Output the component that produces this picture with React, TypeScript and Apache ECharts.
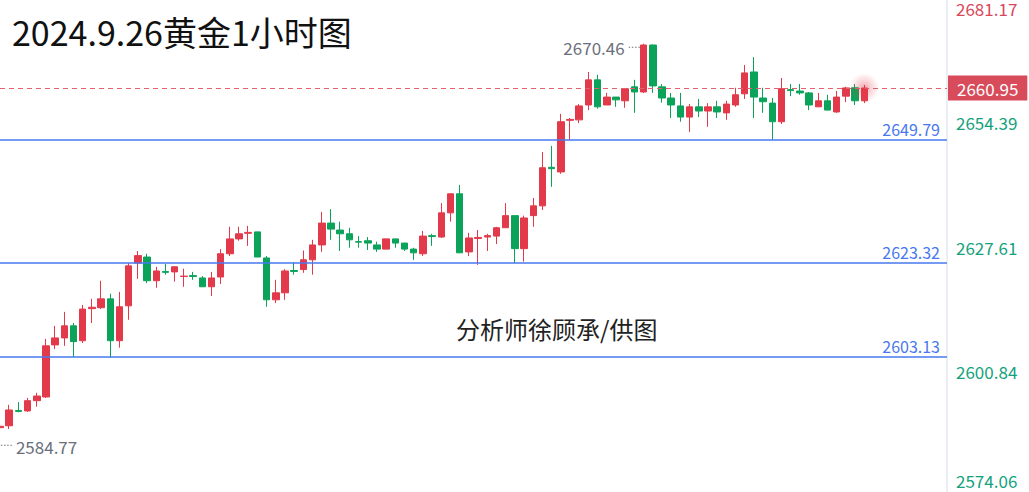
import React, { useEffect, useRef } from "react";
import * as echarts from "echarts";

// Hourly gold candles (Chinese convention: red = up, green = down)
const candleOpen = [
  2587.9, 2588.3, 2591.6, 2591.5, 2593.7, 2594.5, 2605.7, 2607.2, 2609.8, 2606.6,
  2613.5, 2613.7, 2615.6, 2606.6, 2614.1, 2623.3, 2624.6, 2619.5, 2621.5, 2621.4,
  2620.4, 2620.6, 2620.1, 2618.2, 2620.3, 2625.3, 2628.5, 2629.7, 2630.0, 2624.4,
  2615.4, 2616.9, 2621.7, 2621.9, 2624.0, 2627.2, 2631.9, 2630.4, 2629.6, 2627.9,
  2628.1, 2627.2, 2626.3, 2628.5, 2627.6, 2626.3, 2625.3, 2629.2, 2628.9, 2634.1,
  2638.2, 2625.7, 2628.6, 2628.9, 2629.1, 2630.9, 2633.5, 2626.4, 2633.5, 2635.6,
  2643.9, 2642.9, 2654.0, 2654.1, 2657.3, 2662.7, 2657.3, 2659.0, 2658.2, 2661.2,
  2660.1, 2670.2, 2661.2, 2658.8, 2657.1, 2654.7, 2656.9, 2656.0, 2656.9, 2655.6,
  2657.3, 2659.7, 2664.4, 2658.8, 2657.7, 2653.7, 2660.6, 2660.3, 2659.9, 2656.9,
  2658.2, 2655.8, 2659.2, 2661.0, 2658.2,
];
const candleClose = [
  2588.2, 2591.7, 2591.4, 2593.7, 2594.7, 2605.5, 2607.2, 2609.8, 2606.4, 2613.4,
  2613.8, 2615.6, 2606.6, 2613.9, 2622.7, 2624.9, 2619.5, 2621.6, 2621.3, 2622.5,
  2620.5, 2620.4, 2618.2, 2620.1, 2625.3, 2628.5, 2629.6, 2629.9, 2624.6, 2615.4,
  2616.9, 2621.6, 2621.5, 2624.0, 2627.2, 2631.9, 2630.6, 2629.6, 2628.3, 2627.8,
  2627.6, 2626.3, 2628.5, 2627.6, 2626.3, 2625.5, 2629.1, 2629.0, 2634.1, 2638.2,
  2625.5, 2628.7, 2628.8, 2629.2, 2630.9, 2633.5, 2626.4, 2633.0, 2635.6, 2643.8,
  2643.6, 2653.7, 2654.2, 2657.1, 2662.7, 2656.9, 2659.0, 2658.4, 2660.8, 2660.1,
  2670.2, 2661.4, 2658.8, 2657.3, 2654.7, 2656.9, 2656.0, 2656.9, 2655.8, 2657.5,
  2659.5, 2664.2, 2659.0, 2658.0, 2653.7, 2660.8, 2660.4, 2659.9, 2657.3, 2658.2,
  2656.2, 2659.0, 2660.97, 2658.2, 2660.95,
];
const candleLow = [
  2587.6, 2587.6, 2591.2, 2591.3, 2592.4, 2594.3, 2604.8, 2605.5, 2603.1, 2606.1,
  2610.4, 2613.4, 2602.9, 2605.1, 2611.1, 2619.9, 2619.0, 2618.0, 2620.8, 2619.3,
  2618.2, 2619.7, 2618.2, 2616.2, 2618.8, 2624.8, 2628.1, 2627.0, 2624.6, 2613.9,
  2614.7, 2615.4, 2620.8, 2621.2, 2620.8, 2625.7, 2628.3, 2625.9, 2626.6, 2626.6,
  2626.1, 2625.7, 2626.3, 2626.6, 2625.9, 2624.0, 2624.8, 2627.0, 2628.7, 2632.2,
  2625.5, 2624.8, 2622.9, 2625.9, 2627.4, 2630.9, 2623.3, 2623.6, 2631.1, 2634.7,
  2639.7, 2642.5, 2649.8, 2653.4, 2656.2, 2656.5, 2657.3, 2656.9, 2656.7, 2655.6,
  2659.9, 2659.9, 2657.8, 2654.5, 2653.7, 2651.5, 2654.7, 2652.6, 2654.5, 2654.1,
  2656.9, 2658.6, 2654.5, 2655.6, 2649.8, 2653.2, 2659.2, 2659.5, 2656.2, 2656.9,
  2656.2, 2655.6, 2657.9, 2657.3, 2657.7,
];
const candleHigh = [
  2588.4, 2592.8, 2593.4, 2594.3, 2595.4, 2607.0, 2609.8, 2612.8, 2610.4, 2614.3,
  2615.6, 2619.5, 2616.7, 2617.1, 2623.3, 2625.9, 2625.3, 2622.5, 2623.1, 2622.6,
  2622.1, 2621.4, 2620.5, 2621.4, 2626.3, 2631.1, 2631.1, 2631.3, 2630.0, 2624.8,
  2619.7, 2622.0, 2623.5, 2626.0, 2628.3, 2634.3, 2634.9, 2632.2, 2630.9, 2629.1,
  2628.9, 2627.9, 2628.5, 2628.5, 2627.6, 2626.6, 2630.2, 2629.6, 2636.2, 2638.2,
  2640.1, 2629.8, 2630.4, 2629.6, 2631.1, 2636.2, 2633.5, 2633.5, 2637.3, 2647.2,
  2648.5, 2655.4, 2654.5, 2657.5, 2664.4, 2663.8, 2659.9, 2659.0, 2660.8, 2662.7,
  2670.46, 2670.3, 2661.8, 2659.9, 2659.9, 2657.5, 2658.6, 2657.7, 2658.2, 2658.2,
  2661.0, 2665.9, 2667.6, 2661.0, 2658.8, 2663.1, 2661.8, 2661.8, 2660.1, 2659.9,
  2659.5, 2660.3, 2661.2, 2661.8, 2661.6,
];

const levelLines = [2649.79, 2623.32, 2603.13];
const currentPrice = 2660.95;
const axisTickValues = [2574.06, 2600.84, 2627.61, 2654.39, 2681.17];
const yMin = 2574.06;
const yMax = 2681.17;
const highMark = 2670.46;
const highIndex = 70;
const lowMark = 2584.77;
const emptySlots = 9;

const titleText = "2024.9.26黄金1小时图";
const watermarkText = "分析师徐顾承/供图";

const RED = "#e23a4b";
const GREEN = "#0ba35a";
const BLUE = "#4778ef";
const AXIS_RED = "#d9475a";
const AXIS_GREEN = "#14a27d";
const GRAY = "#6b6f7c";
const FONT = "'Noto Sans CJK SC', 'Noto Sans', sans-serif";
const DOT_FONT = "'DejaVu Sans', sans-serif";

// the chart canvas starts 6px above the page so that the value range fills it
const SHIFT = 6;

export default function App() {
  const ref = useRef<HTMLDivElement>(null);

  useEffect(() => {
    if (!ref.current) return;
    const chart = echarts.init(ref.current, undefined, { renderer: "svg" });

    const total = candleOpen.length + emptySlots;
    const categories: string[] = [];
    for (let i = 0; i < total; i++) categories.push("c" + i);
    const ohlc = candleOpen.map((o, i) => [o, candleClose[i], candleLow[i], candleHigh[i]]);
    const lastIdx = candleOpen.length - 1;

    const option: any = {
      animation: false,
      title: {
        text: titleText,
        left: 7,
        top: 9 + SHIFT,
        textStyle: { fontSize: 34, fontWeight: "normal", color: "#111", fontFamily: FONT },
      },
      grid: { left: 0, right: 82, top: 0, bottom: 0 },
      xAxis: {
        type: "category",
        data: categories,
        boundaryGap: false,
        show: false,
      },
      yAxis: {
        type: "value",
        position: "right",
        min: yMin,
        max: yMax,
        scale: true,
        splitLine: { show: false },
        axisLine: { show: true, lineStyle: { color: "#eceef5", width: 2 } },
        axisTick: { show: false },
        axisLabel: {
          customValues: axisTickValues,
          margin: 9,
          fontSize: 17,
          fontFamily: FONT,
          formatter: (v: number) => {
            const s = v.toFixed(2);
            if (Math.abs(v - yMax) < 0.001) return `{top|${s}}`;
            if (Math.abs(v - yMin) < 0.001) return `{bot|${s}}`;
            return `{mid|${s}}`;
          },
          rich: {
            top: { color: AXIS_RED, fontSize: 17, fontFamily: FONT, padding: [29, 0, 0, 0] },
            mid: { color: AXIS_GREEN, fontSize: 17, fontFamily: FONT, padding: [8, 0, 0, 0] },
            bot: { color: AXIS_GREEN, fontSize: 17, fontFamily: FONT, padding: [0, 0, 24, 0] },
          },
        },
      },
      graphic: [
        {
          type: "text",
          left: 456,
          top: 316 + SHIFT,
          style: { text: watermarkText, fontSize: 24, fontFamily: FONT, fill: "#222" },
        },
      ],
      series: [
        {
          type: "candlestick",
          data: ohlc,
          barWidth: 7,
          itemStyle: {
            color: RED,
            color0: GREEN,
            borderColor: RED,
            borderColor0: GREEN,
            borderWidth: 1,
          },
          markLine: {
            silent: true,
            symbol: ["none", "none"],
            animation: false,
            data: [
              ...levelLines.map((v) => ({
                yAxis: v,
                lineStyle: { color: BLUE, width: 1.5, type: "solid" },
                label: {
                  show: true,
                  position: "insideEndTop",
                  formatter: v.toFixed(2),
                  color: BLUE,
                  fontSize: 16,
                  fontFamily: FONT,
                  distance: [7, 3],
                },
              })),
              {
                yAxis: currentPrice,
                lineStyle: { color: "#e4606c", width: 1, type: [5, 4], opacity: 1 },
                label: {
                  show: true,
                  position: "end",
                  formatter: currentPrice.toFixed(2),
                  color: "#fff",
                  backgroundColor: "#d84b5b",
                  fontSize: 17,
                  fontFamily: FONT,
                  padding: [4, 9, 4, 9],
                  distance: 1,
                },
              },
            ],
          },
          markPoint: {
            symbol: "circle",
            symbolSize: 0,
            silent: true,
            data: [
              {
                coord: [categories[highIndex], highMark],
                label: {
                  show: true,
                  position: "left",
                  distance: 3,
                  offset: [0, 4],
                  formatter: `{t|${highMark.toFixed(2)}}{d| ....}`,
                  rich: {
                    t: { color: GRAY, fontSize: 17, fontFamily: FONT },
                    d: {
                      color: GRAY,
                      fontSize: 10,
                      fontFamily: DOT_FONT,
                      verticalAlign: "top",
                      lineHeight: 10,
                    },
                  },
                },
              },
              {
                coord: [categories[0], lowMark],
                label: {
                  show: true,
                  position: "right",
                  distance: 0,
                  offset: [0, 4],
                  formatter: `{d|.... }{t|${lowMark.toFixed(2)}}`,
                  rich: {
                    t: { color: GRAY, fontSize: 17, fontFamily: FONT },
                    d: {
                      color: GRAY,
                      fontSize: 10,
                      fontFamily: DOT_FONT,
                      verticalAlign: "top",
                      lineHeight: 10,
                    },
                  },
                },
              },
            ],
          },
        },
        {
          type: "scatter",
          data: [[categories[lastIdx], candleClose[lastIdx]]],
          symbolSize: 30,
          silent: true,
          z: 5,
          itemStyle: {
            color: new echarts.graphic.RadialGradient(0.5, 0.5, 0.5, [
              { offset: 0, color: "rgba(226,58,75,0.55)" },
              { offset: 0.5, color: "rgba(226,58,75,0.25)" },
              { offset: 1, color: "rgba(226,58,75,0)" },
            ]),
          },
        },
      ],
    };

    chart.setOption(option);
    return () => chart.dispose();
  }, []);

  return (
    <div
      ref={ref}
      style={{ position: "absolute", left: 0, top: -SHIFT, width: 1029, height: 492 + SHIFT }}
    />
  );
}
